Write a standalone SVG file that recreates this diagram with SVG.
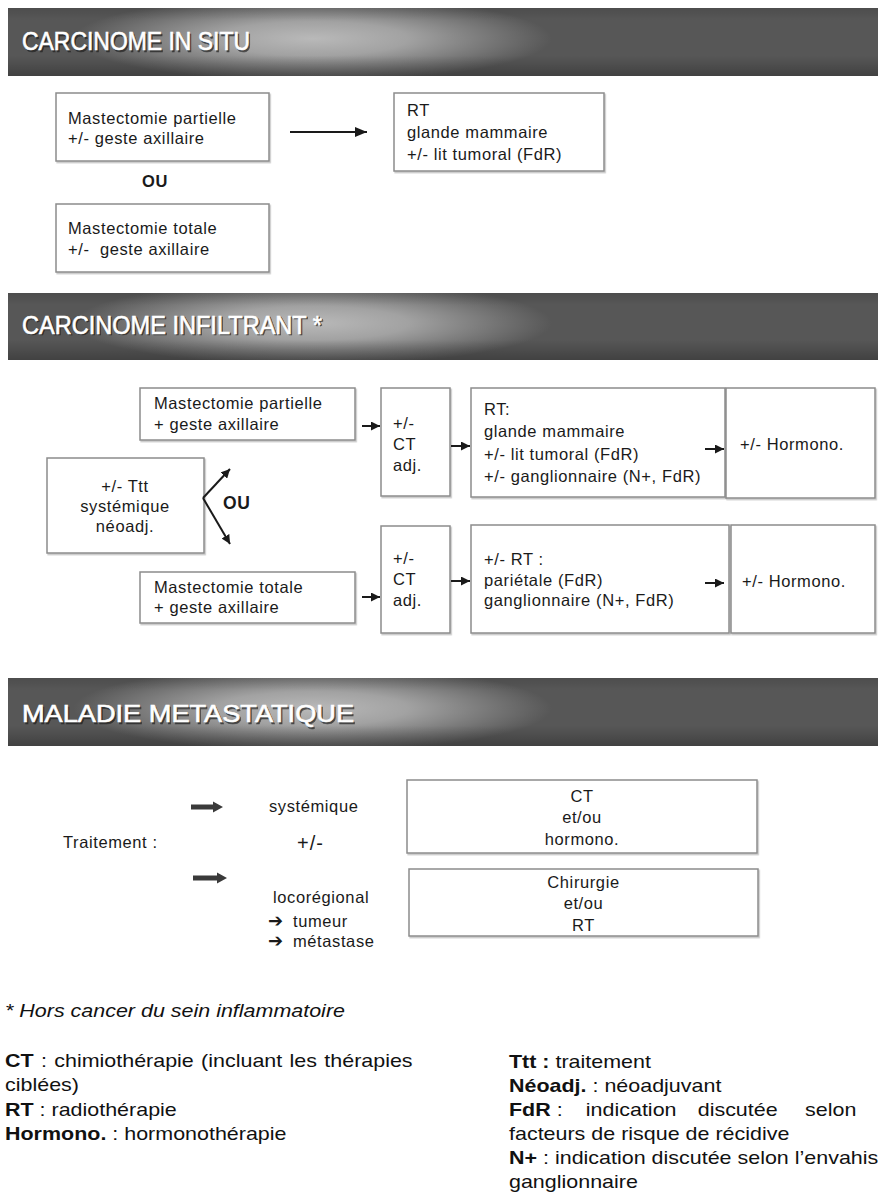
<svg xmlns="http://www.w3.org/2000/svg" width="878" height="1194" viewBox="0 0 878 1194">
<style>
.t{font-family:"Liberation Sans",Arial,"DejaVu Sans",sans-serif;font-size:16.5px;letter-spacing:0.6px;fill:#1a1a1a}
.c{text-anchor:middle}
.b{font-weight:bold}
.box{fill:#fff;stroke:#8c8c8c;stroke-width:1.5;filter:url(#sh)}
.hd{font-family:"Liberation Sans",Arial,sans-serif;font-size:25px;fill:#fff;stroke:#fff;stroke-width:0.6}
.hs{font-family:"Liberation Sans",Arial,sans-serif;font-size:25px;fill:#1e1e1e;stroke:#1e1e1e;stroke-width:0.6;opacity:0.7}
.ln{stroke:#1a1a1a;stroke-width:2;fill:none}
.lg{font-family:"Liberation Sans",Arial,"DejaVu Sans",sans-serif;font-size:19px;fill:#111}
.fat{fill:#3a3a3a}
.ar{font-family:"DejaVu Sans",sans-serif;font-size:18px;font-weight:bold;letter-spacing:0}
</style>
<defs>
<filter id="sh" x="-5%" y="-5%" width="115%" height="120%">
<feDropShadow dx="1.2" dy="1.5" stdDeviation="0.7" flood-color="#000" flood-opacity="0.22"/>
</filter>
<radialGradient id="hg" cx="0.35" cy="0.45" r="0.5" gradientTransform="translate(0.35,0.45) scale(0.55,1.25) translate(-0.35,-0.45)">
<stop offset="0" stop-color="#b9b9b9"/>
<stop offset="0.4" stop-color="#a2a2a2"/>
<stop offset="1" stop-color="#575757"/>
</radialGradient>
<linearGradient id="hv" x1="0" y1="0" x2="0" y2="1">
<stop offset="0" stop-color="#000" stop-opacity="0.12"/>
<stop offset="0.18" stop-color="#000" stop-opacity="0"/>
<stop offset="0.7" stop-color="#000" stop-opacity="0"/>
<stop offset="1" stop-color="#000" stop-opacity="0.25"/>
</linearGradient>
<marker id="ah" markerUnits="userSpaceOnUse" markerWidth="10" markerHeight="9" refX="9" refY="4.5" orient="auto">
<path d="M0,0 L9,4.5 L0,9 Z" fill="#1a1a1a"/>
</marker>
<marker id="ahL" markerUnits="userSpaceOnUse" markerWidth="13" markerHeight="10" refX="12" refY="5" orient="auto">
<path d="M0,0 L12,5 L0,10 Z" fill="#1a1a1a"/>
</marker>
</defs>
<rect width="878" height="1194" fill="#fff"/>

<!-- headers -->
<g id="header-in-situ">
<rect x="8" y="8" width="870" height="68" fill="url(#hg)"/>
<rect x="8" y="8" width="870" height="68" fill="url(#hv)"/>
<text class="hs" x="23.5" y="51.5" textLength="228" lengthAdjust="spacingAndGlyphs">CARCINOME IN SITU</text>
<text class="hd" x="22" y="50" textLength="228" lengthAdjust="spacingAndGlyphs">CARCINOME IN SITU</text>
</g>
<g id="header-infiltrant">
<rect x="8" y="293" width="870" height="67" fill="url(#hg)"/>
<rect x="8" y="293" width="870" height="67" fill="url(#hv)"/>
<text class="hs" x="23.5" y="335" textLength="300" lengthAdjust="spacingAndGlyphs">CARCINOME INFILTRANT *</text>
<text class="hd" x="22" y="333.5" textLength="300" lengthAdjust="spacingAndGlyphs">CARCINOME INFILTRANT *</text>
</g>
<g id="header-metastatique">
<rect x="8" y="678" width="870" height="68" fill="url(#hg)"/>
<rect x="8" y="678" width="870" height="68" fill="url(#hv)"/>
<text class="hs" x="23.5" y="723.5" textLength="332" lengthAdjust="spacingAndGlyphs" style="font-size:24px">MALADIE METASTATIQUE</text>
<text class="hd" x="22" y="722" textLength="332" lengthAdjust="spacingAndGlyphs" style="font-size:24px">MALADIE METASTATIQUE</text>
</g>

<!-- section 1 -->
<g id="s1-partielle">
<rect class="box" x="56" y="93" width="213" height="68"/>
<text class="t" x="68" y="124">Mastectomie partielle</text>
<text class="t" x="68" y="144">+/- geste axillaire</text>
</g>
<g id="s1-ou">
<text class="t b" x="142" y="187">OU</text>
</g>
<g id="s1-totale">
<rect class="box" x="56" y="204" width="213" height="68"/>
<text class="t" x="68" y="234">Mastectomie totale</text>
<text class="t" x="68" y="255">+/-&#160; geste axillaire</text>
</g>
<g id="s1-rt">
<rect class="box" x="394" y="93" width="210" height="78"/>
<text class="t" x="407" y="116">RT</text>
<text class="t" x="407" y="138">glande mammaire</text>
<text class="t" x="407" y="160">+/- lit tumoral (FdR)</text>
</g>

<!-- section 2 -->
<g id="s2-neoadj">
<rect class="box" x="47" y="458" width="157" height="95"/>
<text class="t c" x="125" y="492">+/- Ttt</text>
<text class="t c" x="125" y="512">systémique</text>
<text class="t c" x="125" y="532">néoadj.</text>
</g>
<g id="s2-ou">
<text class="t b" x="223" y="509" style="font-size:17.5px">OU</text>
</g>
<g id="s2-partielle">
<rect class="box" x="140" y="388" width="215" height="52"/>
<text class="t" x="154" y="409">Mastectomie partielle</text>
<text class="t" x="154" y="430">+ geste axillaire</text>
</g>
<g id="s2-totale">
<rect class="box" x="140" y="572" width="215" height="51"/>
<text class="t" x="154" y="593">Mastectomie totale</text>
<text class="t" x="154" y="613">+ geste axillaire</text>
</g>
<g id="s2-ct1">
<rect class="box" x="381" y="388" width="69" height="108"/>
<text class="t" x="393" y="429">+/-</text>
<text class="t" x="393" y="450">CT</text>
<text class="t" x="393" y="471">adj.</text>
</g>
<g id="s2-ct2">
<rect class="box" x="381" y="526" width="69" height="107"/>
<text class="t" x="393" y="564">+/-</text>
<text class="t" x="393" y="585">CT</text>
<text class="t" x="393" y="606">adj.</text>
</g>
<g id="s2-rt1">
<rect class="box" x="471" y="388" width="254" height="109"/>
<text class="t" x="484" y="415">RT:</text>
<text class="t" x="484" y="437">glande mammaire</text>
<text class="t" x="484" y="460">+/- lit tumoral (FdR)</text>
<text class="t" x="484" y="482">+/- ganglionnaire (N+, FdR)</text>
</g>
<g id="s2-rt2">
<rect class="box" x="471" y="525" width="258" height="108"/>
<text class="t" x="484" y="565">+/- RT :</text>
<text class="t" x="484" y="586">pariétale (FdR)</text>
<text class="t" x="484" y="606">ganglionnaire (N+, FdR)</text>
</g>
<g id="s2-hormono1">
<rect class="box" x="726" y="388" width="149" height="110"/>
<text class="t" x="740" y="450">+/- Hormono.</text>
</g>
<g id="s2-hormono2">
<rect class="box" x="731" y="525" width="144" height="108"/>
<text class="t" x="742" y="587">+/- Hormono.</text>
</g>

<!-- section 3 -->
<g id="s3-traitement">
<text class="t" x="63" y="848">Traitement :</text>
</g>
<g id="s3-systemique">
<text class="t" x="269" y="812">systémique</text>
</g>
<g id="s3-plusminus">
<text class="t" x="297" y="850" style="font-size:20px;letter-spacing:1px">+/-</text>
</g>
<g id="s3-locoregional">
<text class="t" x="273" y="903">locorégional</text>
<text class="t" y="927"><tspan x="268" class="ar">➔</tspan><tspan x="293">tumeur</tspan></text>
<text class="t" y="947"><tspan x="268" class="ar">➔</tspan><tspan x="293">métastase</tspan></text>
</g>
<g id="s3-ct">
<rect class="box" x="407" y="780" width="350" height="73"/>
<text class="t c" x="582" y="802">CT</text>
<text class="t c" x="582" y="823">et/ou</text>
<text class="t c" x="582" y="845">hormono.</text>
</g>
<g id="s3-chirurgie">
<rect class="box" x="409" y="869" width="349" height="67"/>
<text class="t c" x="583.5" y="888">Chirurgie</text>
<text class="t c" x="583.5" y="909">et/ou</text>
<text class="t c" x="583.5" y="931">RT</text>
</g>

<!-- connectors -->
<g id="connectors">
<line class="ln" x1="290" y1="132" x2="367" y2="132" marker-end="url(#ahL)"/>
<line class="ln" x1="362" y1="426" x2="380" y2="426" marker-end="url(#ah)"/>
<line class="ln" x1="362" y1="597" x2="380" y2="597" marker-end="url(#ah)"/>
<line class="ln" x1="451" y1="446" x2="470" y2="446" marker-end="url(#ah)"/>
<line class="ln" x1="451" y1="581" x2="470" y2="581" marker-end="url(#ah)"/>
<line class="ln" x1="705" y1="449" x2="724" y2="449" marker-end="url(#ah)"/>
<line class="ln" x1="705" y1="583" x2="724" y2="583" marker-end="url(#ah)"/>
<line class="ln" x1="203" y1="498" x2="230" y2="469" marker-end="url(#ah)"/>
<line class="ln" x1="203" y1="498" x2="230" y2="544" marker-end="url(#ah)"/>
<path class="fat" d="M191,804.5 H213 V801.5 L223,807 L213,812.5 V809.5 H191 Z"/>
<path class="fat" d="M193,875.5 H217 V872.5 L227,878 L217,883.5 V880.5 H193 Z"/>
</g>

<!-- legend -->
<g id="legend-left" transform="translate(5,0) scale(1.13,1)">
<text class="lg" x="0" y="1017" font-style="italic">* Hors cancer du sein inflammatoire</text>
<text class="lg" x="0" y="1067" word-spacing="1.2"><tspan class="b">CT</tspan> : chimiothérapie (incluant les thérapies</text>
<text class="lg" x="0" y="1091">ciblées)</text>
<text class="lg" x="0" y="1116"><tspan class="b">RT</tspan> : radiothérapie</text>
<text class="lg" x="0" y="1140"><tspan class="b">Hormono.</tspan> : hormonothérapie</text>
</g>
<g id="legend-right" transform="translate(509,0) scale(1.13,1)">
<text class="lg" x="0" y="1068"><tspan class="b">Ttt :</tspan> traitement</text>
<text class="lg" x="0" y="1092"><tspan class="b">Néoadj.</tspan> : néoadjuvant</text>
<text class="lg" y="1116"><tspan x="0" class="b">FdR</tspan><tspan> :</tspan><tspan x="68">indication</tspan><tspan x="167">discutée</tspan><tspan x="262">selon</tspan></text>
<text class="lg" x="0" y="1140">facteurs de risque de récidive</text>
<text class="lg" x="0" y="1164"><tspan class="b">N+</tspan> : indication discutée selon l’envahis</text>
<text class="lg" x="0" y="1188">ganglionnaire</text>
</g>
</svg>
